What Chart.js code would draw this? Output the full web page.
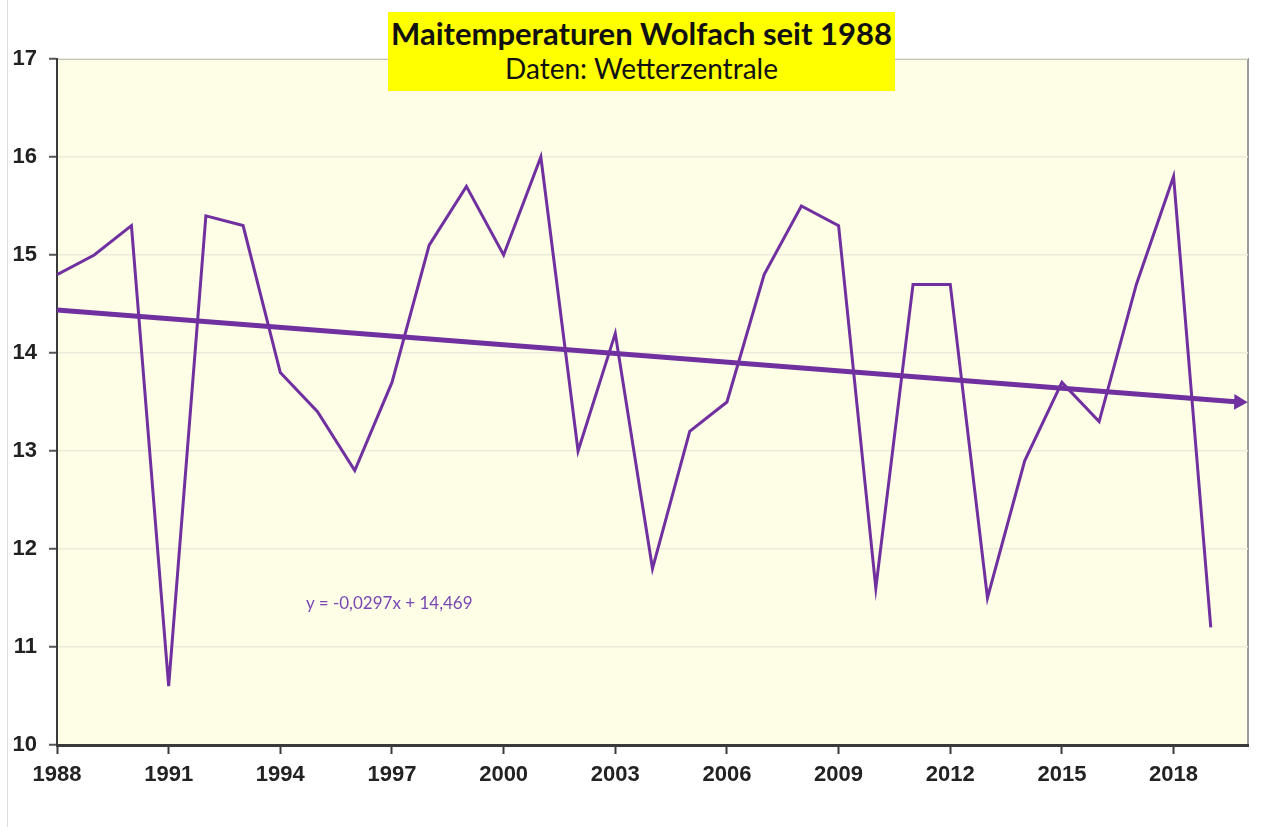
<!DOCTYPE html>
<html lang="de">
<head>
<meta charset="utf-8">
<title>Maitemperaturen Wolfach seit 1988</title>
<script src="https://cdn.jsdelivr.net/npm/chart.js@4/dist/chart.umd.min.js"></script>
<style>
  html, body { margin: 0; padding: 0; background: #fff; }
  #wrap { position: relative; width: 1276px; height: 827px; }
  #frame { position: absolute; left: 7px; top: 0; width: 1px; height: 827px; background: #dcdcdc; }
  #title {
    position: absolute; left: 388px; top: 12px; width: 507px; height: 79px;
    background: #ffff00; text-align: center; font-family: Lato, "Open Sans", sans-serif; color: #111;
  }
  #title .t1 { font-weight: bold; font-size: 31px; line-height: 38px; margin-top: 2px; letter-spacing: 0px; }
  #title .t2 { font-size: 28px; line-height: 32px; }
  #eq {
    position: absolute; left: 306px; top: 592px; color: #7a48b4;
    font-family: Lato, "Open Sans", sans-serif; font-size: 17px;
  }
</style>
</head>
<body>
<div id="wrap">
  <canvas id="chart" width="1276" height="827"></canvas>
  <div id="frame"></div>
  <div id="title"><div class="t1">Maitemperaturen Wolfach seit 1988</div><div class="t2">Daten: Wetterzentrale</div></div>
  <div id="eq">y = -0,0297x + 14,469</div>
</div>
<script>
  // ─── Data ───────────────────────────────────────────────────────────
  const years = [1988, 1989, 1990, 1991, 1992, 1993, 1994, 1995, 1996, 1997,
                 1998, 1999, 2000, 2001, 2002, 2003, 2004, 2005, 2006, 2007,
                 2008, 2009, 2010, 2011, 2012, 2013, 2014, 2015, 2016, 2017,
                 2018, 2019];
  const mayTemps = [14.8, 15.0, 15.3, 10.6, 15.4, 15.3, 13.8, 13.4, 12.8, 13.7,
                    15.1, 15.7, 15.0, 16.0, 13.0, 14.2, 11.8, 13.2, 13.5, 14.8,
                    15.5, 15.3, 11.6, 14.7, 14.7, 11.5, 12.9, 13.7, 13.3, 14.7,
                    15.8, 11.2];
  // linear trend (Excel): start and arrow end
  const trendYears = [1988, 2019.75];
  const trendValues = [14.44, 13.50];
  const xTicks = [1988, 1991, 1994, 1997, 2000, 2003, 2006, 2009, 2012, 2015, 2018];
  const yTicks = [10, 11, 12, 13, 14, 15, 16, 17];

  const PURPLE = '#7030a0';
  const PAD = { left: 0, top: 59, right: 28, bottom: 0 };

  const plotBg = {
    id: 'plotBg',
    beforeDraw(chart) {
      const { ctx, chartArea: a } = chart;
      ctx.save();
      ctx.fillStyle = '#fefde6';
      ctx.fillRect(a.left, a.top, a.right - a.left, a.bottom - a.top);
      ctx.strokeStyle = '#9a9a9a';
      ctx.lineWidth = 2;
      ctx.beginPath();
      ctx.moveTo(a.left, a.top);
      ctx.lineTo(a.right, a.top);
      ctx.lineTo(a.right, a.bottom);
      ctx.stroke();
      ctx.restore();
    }
  };

  const tickFont = { family: 'Arial, "Liberation Sans", sans-serif', size: 22, weight: 'bold' };

  new Chart(document.getElementById('chart'), {
    type: 'line',
    data: {
      datasets: [
        {
          label: 'Mai',
          data: years.map((y, i) => ({ x: y, y: mayTemps[i] })),
          borderColor: PURPLE,
          borderWidth: 3,
          pointRadius: 0,
          tension: 0,
          order: 2,
        },
        {
          label: 'Trend',
          data: trendYears.map((y, i) => ({ x: y, y: trendValues[i] })),
          borderColor: PURPLE,
          backgroundColor: PURPLE,
          borderWidth: 5,
          pointStyle: 'triangle',
          pointRotation: 91.5,
          pointRadius: [0, 9],
          pointBorderWidth: 0,
          tension: 0,
          order: 1,
        },
      ],
    },
    options: {
      responsive: false,
      animation: false,
      layout: { padding: PAD },
      plugins: { legend: { display: false }, tooltip: { enabled: false } },
      scales: {
        x: {
          type: 'linear',
          min: 1988,
          max: 2020,
          afterBuildTicks: (s) => { s.ticks = xTicks.map(v => ({ value: v })); },
          afterFit: (s) => { s.height = 827 - 745; },
          border: { color: '#3a3a3a', width: 3 },
          grid: { drawOnChartArea: false, drawTicks: true, tickLength: 9, tickColor: '#3a3a3a', tickWidth: 2 },
          ticks: { font: tickFont, color: '#222', padding: 8, maxRotation: 0, callback: (v) => String(v) },
        },
        y: {
          min: 10,
          max: 17,
          afterBuildTicks: (s) => { s.ticks = yTicks.map(v => ({ value: v })); },
          afterFit: (s) => { s.width = 57; },
          border: { color: '#3a3a3a', width: 2 },
          grid: { color: '#ecebd9', lineWidth: 1.5, tickLength: 8, tickColor: '#555', tickWidth: 2 },
          ticks: { font: tickFont, color: '#222', padding: 12 },
        },
      },
    },
    plugins: [plotBg],
  });
</script>
</body>
</html>
